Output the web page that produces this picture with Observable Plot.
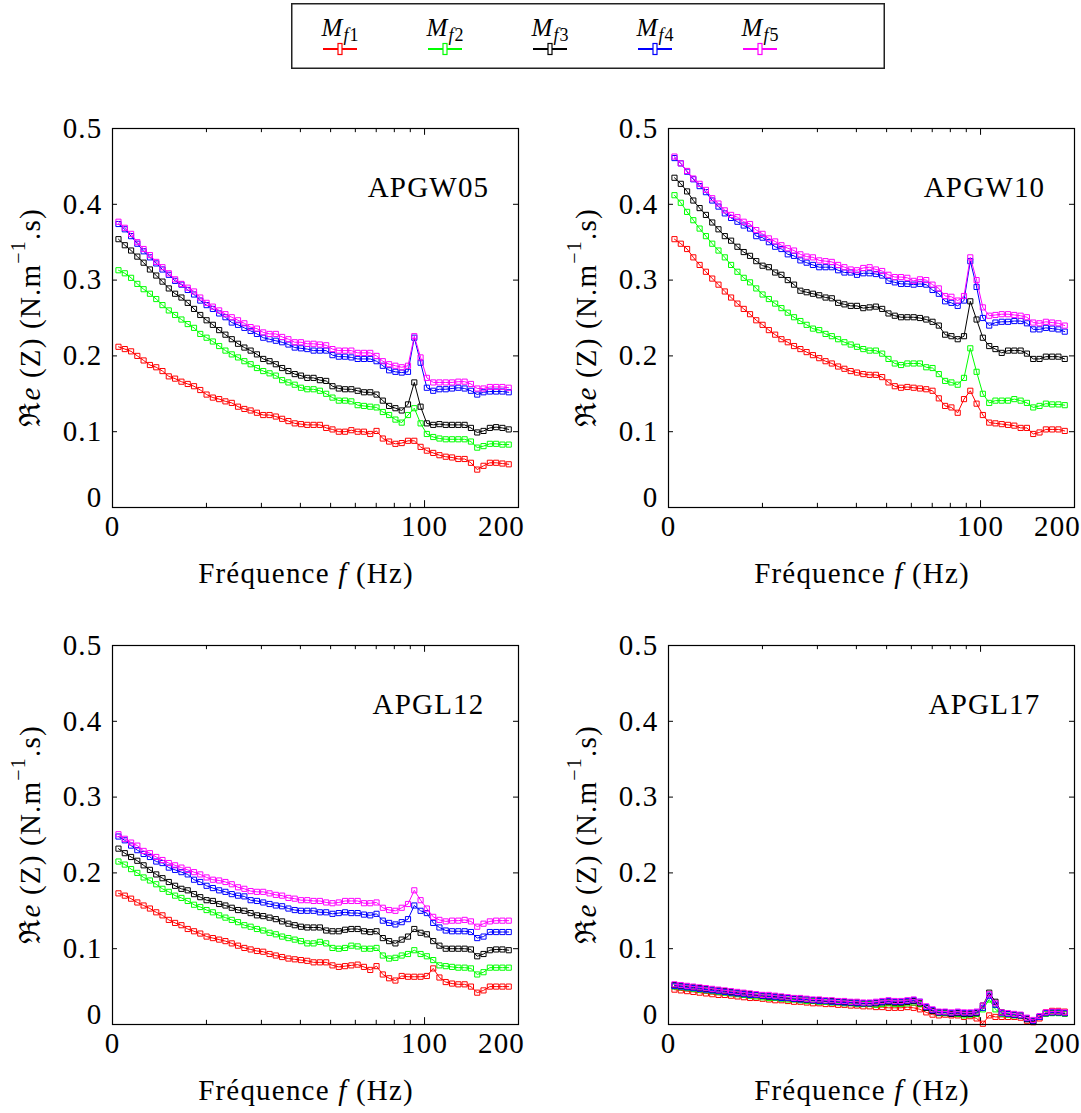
<!DOCTYPE html>
<html><head><meta charset="utf-8">
<script src="https://cdn.jsdelivr.net/npm/d3@7"></script>
<script src="https://cdn.jsdelivr.net/npm/@observablehq/plot@0.6"></script>
<style>
body{margin:0;background:#fff;width:1081px;height:1113px;overflow:hidden;position:relative;font-family:"Liberation Serif",serif;}
.panel{position:absolute;width:538px;}
.panel svg{max-width:none !important;}
#legend{position:absolute;left:291px;top:3px;}
</style></head><body>
<div id="legend"></div>
<div id="p0" class="panel" style="left:0px;top:88px"></div>
<div id="p1" class="panel" style="left:555.5px;top:88px"></div>
<div id="p2" class="panel" style="left:0px;top:605px"></div>
<div id="p3" class="panel" style="left:555.5px;top:605px"></div>
<script>
// ---------- data ----------
const freq = [10.45,10.95,11.47,12.01,12.58,13.18,13.81,14.46,15.15,15.87,16.63,17.42,18.25,19.11,20.02,20.97,21.97,23.01,24.11,25.25,26.46,27.71,29.03,30.41,31.86,33.37,34.96,36.62,38.36,40.18,42.09,44.09,46.19,48.39,50.69,53.10,55.62,58.26,61.03,63.94,66.98,70.16,73.49,76.99,80.65,84.48,88.50,92.71,97.11,101.7,106.6,111.6,116.9,122.5,128.3,134.4,140.8,147.5,154.5,161.9,169.6,177.6,186.1];
const seriesNames = ["Mf1","Mf2","Mf3","Mf4","Mf5"];
const seriesColors = ["#ff0000","#00ff00","#000000","#0000ff","#ff00ff"];
const panelNames = ["APGW05","APGW10","APGL12","APGL17"];
const yTicks = [0,0.1,0.2,0.3,0.4,0.5];
const xMinorTicks = [20,30,40,50,60,70,80,90];
const xMajorTicks = [100];
const xTickLabels = [{f:10,label:"0"},{f:100,label:"100"},{f:200,label:"200"}];

// APGW05
const apgw05_mf1 = [0.212,0.209,0.206,0.200,0.194,0.188,0.185,0.180,0.173,0.170,0.166,0.163,0.160,0.155,0.149,0.145,0.143,0.140,0.138,0.133,0.130,
 0.128,0.125,0.122,0.122,0.120,0.117,0.114,0.111,0.110,0.109,0.109,0.109,0.105,0.103,0.100,0.100,0.102,0.100,0.100,0.097,0.101,
 0.091,0.087,0.084,0.085,0.088,0.088,0.080,0.075,0.072,0.069,0.067,0.066,0.064,0.064,0.059,0.050,0.055,0.059,0.059,0.058,0.057];
const apgw05_mf2 = [0.313,0.309,0.303,0.295,0.288,0.282,0.275,0.267,0.260,0.254,0.248,0.242,0.237,0.229,0.224,0.219,0.213,0.207,0.202,0.198,0.193,
 0.189,0.184,0.180,0.177,0.174,0.168,0.165,0.162,0.158,0.156,0.156,0.154,0.150,0.145,0.141,0.141,0.140,0.135,0.134,0.133,0.132,
 0.126,0.122,0.116,0.112,0.122,0.131,0.111,0.097,0.093,0.091,0.090,0.090,0.090,0.090,0.087,0.079,0.081,0.084,0.084,0.083,0.083];
const apgw05_mf3 = [0.354,0.346,0.339,0.331,0.323,0.314,0.306,0.298,0.289,0.282,0.277,0.270,0.262,0.254,0.247,0.241,0.234,0.228,0.222,0.216,0.211,
 0.207,0.202,0.196,0.193,0.189,0.184,0.180,0.176,0.174,0.171,0.171,0.168,0.167,0.160,0.157,0.156,0.156,0.154,0.152,0.152,0.149,
 0.141,0.134,0.131,0.128,0.136,0.165,0.133,0.111,0.109,0.110,0.109,0.109,0.109,0.109,0.105,0.099,0.101,0.105,0.106,0.105,0.103];
const apgw05_mf4 = [0.374,0.367,0.358,0.348,0.338,0.330,0.322,0.314,0.307,0.299,0.294,0.287,0.281,0.273,0.267,0.262,0.256,0.251,0.244,0.241,0.237,
 0.233,0.229,0.224,0.222,0.220,0.218,0.215,0.211,0.210,0.209,0.207,0.207,0.207,0.201,0.199,0.199,0.198,0.196,0.196,0.196,0.193,
 0.187,0.181,0.179,0.178,0.179,0.224,0.191,0.158,0.154,0.156,0.156,0.157,0.158,0.157,0.154,0.149,0.152,0.153,0.153,0.153,0.152];
const apgw05_mf5 = [0.377,0.369,0.361,0.350,0.341,0.333,0.324,0.317,0.309,0.301,0.295,0.290,0.285,0.277,0.270,0.265,0.260,0.255,0.251,0.247,0.243,
 0.238,0.236,0.231,0.229,0.229,0.225,0.222,0.218,0.218,0.216,0.216,0.215,0.214,0.209,0.207,0.207,0.207,0.204,0.204,0.204,0.200,
 0.193,0.189,0.187,0.185,0.187,0.226,0.198,0.171,0.165,0.165,0.165,0.165,0.166,0.166,0.163,0.157,0.157,0.159,0.159,0.159,0.158];

// APGW10
const apgw10_mf1 = [0.354,0.348,0.341,0.330,0.320,0.311,0.302,0.294,0.285,0.277,0.269,0.262,0.255,0.247,0.241,0.234,0.228,0.222,
 0.218,0.213,0.209,0.205,0.201,0.197,0.193,0.190,0.186,0.183,0.180,0.178,
 0.176,0.175,0.175,0.172,0.165,0.160,0.158,0.159,0.158,0.157,0.156,0.154,0.144,0.134,0.132,0.125,0.143,0.154,0.137,0.122,0.112,0.111,0.110,0.109,0.108,0.105,0.105,0.097,0.099,0.103,0.103,0.103,0.101];
const apgw10_mf2 = [0.412,0.402,0.390,0.379,0.368,0.358,0.348,0.339,0.330,0.320,0.311,0.303,0.297,0.289,0.281,0.275,0.269,0.263,0.257,0.251,0.246,0.241,0.236,0.234,0.229,0.226,0.222,
 0.218,0.215,0.212,
 0.209,0.207,0.207,0.203,0.196,0.190,0.188,0.190,0.190,0.190,0.185,0.184,0.176,0.167,0.165,0.162,0.171,0.210,0.179,0.150,0.138,0.141,0.141,0.141,0.143,0.141,0.138,0.132,0.134,0.137,0.136,0.136,0.135];
const apgw10_mf3 = [0.435,0.427,0.417,0.405,0.395,0.386,0.376,0.367,0.358,0.352,0.344,0.337,0.332,0.325,0.319,0.317,0.310,0.307,0.300,0.294,0.286,0.284,0.282,0.280,0.277,0.276,0.270,0.268,0.266,0.266,
 0.263,0.264,0.265,0.262,0.256,0.253,0.251,0.251,0.251,0.250,0.248,0.245,0.240,0.228,0.226,0.222,0.226,0.272,0.248,0.224,0.213,0.209,0.204,0.207,0.207,0.207,0.203,0.196,0.196,0.199,0.199,0.199,0.196];
const apgw10_mf4 = [0.461,0.454,0.443,0.433,0.424,0.416,0.405,0.397,0.388,0.382,0.377,0.372,0.368,0.358,0.356,0.350,0.344,0.341,0.334,0.332,0.326,0.323,0.320,0.317,0.317,0.317,0.313,0.310,0.310,0.307,
 0.309,0.309,0.308,0.306,0.299,0.297,0.295,0.295,0.294,0.295,0.294,0.287,0.282,0.272,0.270,0.266,0.273,0.325,0.291,0.250,0.240,0.244,0.245,0.245,0.246,0.246,0.243,0.235,0.235,0.237,0.236,0.235,0.232];
const apgw10_mf5 = [0.463,0.454,0.444,0.434,0.427,0.419,0.408,0.401,0.392,0.386,0.383,0.377,0.374,0.366,0.361,0.355,0.351,0.346,0.342,0.339,0.334,0.331,0.330,0.326,0.325,0.324,0.320,0.317,0.314,0.313,
 0.316,0.317,0.314,0.312,0.307,0.304,0.304,0.303,0.299,0.301,0.300,0.294,0.289,0.279,0.278,0.273,0.279,0.330,0.300,0.264,0.253,0.254,0.255,0.255,0.254,0.253,0.251,0.244,0.243,0.245,0.244,0.243,0.240];

// APGL12
const apgl12_mf1 = [0.173,0.170,0.166,0.161,0.157,0.153,0.148,0.144,0.138,0.134,0.131,0.126,0.123,0.120,0.116,0.114,0.112,0.110,0.107,0.104,0.101,0.099,0.097,0.096,0.093,0.091,0.089,0.087,0.086,0.085,0.084,0.082,
 0.082,0.082,0.078,0.076,0.077,0.078,0.079,0.076,0.072,0.077,0.066,0.061,0.058,0.064,0.063,0.063,0.063,0.064,0.074,0.062,0.056,0.054,0.053,0.053,0.050,0.042,0.045,0.050,0.050,0.050,0.050];
const apgl12_mf2 = [0.215,0.211,0.205,0.200,0.194,0.190,0.185,0.179,0.175,0.170,0.167,0.163,0.158,0.155,0.151,0.148,0.144,0.141,0.138,0.135,0.131,0.129,0.126,0.124,0.121,0.119,0.116,0.114,0.112,0.110,0.107,0.107,
 0.109,0.107,0.101,0.100,0.101,0.104,0.103,0.100,0.100,0.101,0.091,0.087,0.088,0.091,0.093,0.098,0.093,0.090,0.085,0.078,0.077,0.076,0.075,0.075,0.074,0.066,0.069,0.075,0.075,0.075,0.075];
const apgl12_mf3 = [0.232,0.226,0.221,0.216,0.210,0.204,0.198,0.193,0.188,0.183,0.179,0.177,0.172,0.168,0.164,0.163,0.159,0.157,0.154,0.151,0.150,0.147,0.144,0.143,0.141,0.139,0.136,0.133,0.131,0.129,0.128,0.128,
 0.128,0.124,0.123,0.123,0.125,0.126,0.126,0.123,0.122,0.123,0.114,0.110,0.107,0.112,0.116,0.126,0.121,0.119,0.110,0.104,0.100,0.100,0.100,0.100,0.099,0.090,0.093,0.098,0.099,0.099,0.098];
const apgl12_mf4 = [0.248,0.243,0.236,0.230,0.225,0.221,0.215,0.213,0.207,0.204,0.201,0.198,0.191,0.188,0.183,0.180,0.177,0.175,0.172,0.170,0.169,0.164,0.163,0.161,0.159,0.157,0.156,0.153,0.151,0.150,0.150,0.150,
 0.148,0.148,0.146,0.147,0.148,0.147,0.147,0.145,0.144,0.146,0.137,0.134,0.132,0.135,0.139,0.157,0.150,0.147,0.134,0.128,0.124,0.123,0.123,0.123,0.122,0.114,0.116,0.122,0.122,0.122,0.122];
const apgl12_mf5 = [0.251,0.245,0.240,0.236,0.229,0.226,0.221,0.217,0.213,0.210,0.207,0.204,0.201,0.198,0.194,0.191,0.190,0.188,0.185,0.181,0.179,0.176,0.175,0.175,0.173,0.171,0.170,0.167,0.166,0.164,0.164,0.163,
 0.163,0.161,0.160,0.161,0.163,0.163,0.163,0.160,0.160,0.161,0.154,0.151,0.150,0.154,0.159,0.177,0.164,0.153,0.142,0.138,0.136,0.137,0.137,0.138,0.136,0.129,0.133,0.136,0.137,0.137,0.137];

// APGL17
const apgl17_mf1 = [0.046,0.045,0.044,0.043,0.042,0.041,0.040,0.039,0.039,
 0.038,0.037,0.036,0.035,0.035,0.034,0.033,0.032,0.032,
 0.031,0.030,0.030,0.029,0.028,0.028,0.027,0.027,0.026,
 0.026,0.025,0.025,0.024,0.024,0.023,0.023,0.022,0.022,
 0.022,0.023,0.022,0.020,0.016,0.013,0.012,0.013,0.012,
 0.012,0.010,0.011,0.008,0.001,0.012,0.010,0.010,0.010,
 0.010,0.009,0.005,0.003,0.008,0.016,0.018,0.018,0.017];
const apgl17_mf2 = [0.050,0.049,0.048,0.047,0.046,0.045,0.044,0.043,0.042,
 0.041,0.040,0.039,0.038,0.037,0.036,0.035,0.035,0.034,
 0.033,0.033,0.032,0.031,0.031,0.030,0.030,0.029,0.029,
 0.028,0.028,0.027,0.027,0.027,0.026,0.027,0.028,0.027,
 0.027,0.028,0.029,0.027,0.022,0.018,0.015,0.015,0.014,
 0.014,0.012,0.013,0.014,0.020,0.033,0.020,0.014,0.013,
 0.012,0.012,0.008,0.005,0.010,0.014,0.015,0.015,0.014];
const apgl17_mf3 = [0.052,0.051,0.050,0.049,0.048,0.047,0.046,0.045,0.044,
 0.043,0.042,0.041,0.040,0.039,0.038,0.037,0.037,0.036,
 0.035,0.034,0.034,0.033,0.032,0.032,0.031,0.031,0.030,
 0.030,0.029,0.029,0.028,0.028,0.028,0.029,0.030,0.029,
 0.029,0.030,0.031,0.028,0.022,0.018,0.016,0.016,0.014,
 0.015,0.014,0.014,0.015,0.025,0.042,0.030,0.016,0.014,
 0.013,0.012,0.007,0.004,0.010,0.015,0.016,0.016,0.015];
const apgl17_mf4 = [0.051,0.050,0.049,0.048,0.047,0.046,0.045,0.044,0.043,
 0.042,0.041,0.040,0.039,0.039,0.038,0.037,0.036,0.035,
 0.035,0.034,0.033,0.033,0.032,0.031,0.031,0.030,0.030,
 0.029,0.029,0.028,0.028,0.028,0.029,0.030,0.031,0.030,
 0.030,0.031,0.032,0.030,0.023,0.019,0.016,0.016,0.015,
 0.016,0.015,0.015,0.016,0.022,0.038,0.026,0.015,0.014,
 0.013,0.012,0.008,0.005,0.010,0.015,0.016,0.016,0.015];
const apgl17_mf5 = [0.053,0.052,0.051,0.050,0.049,0.048,0.047,0.046,0.045,
 0.044,0.043,0.042,0.041,0.040,0.039,0.039,0.038,0.037,
 0.036,0.035,0.035,0.034,0.033,0.033,0.032,0.032,0.031,
 0.031,0.030,0.030,0.029,0.029,0.030,0.031,0.032,0.031,
 0.031,0.032,0.033,0.030,0.024,0.020,0.017,0.017,0.016,
 0.017,0.016,0.016,0.017,0.025,0.040,0.028,0.016,0.015,
 0.014,0.013,0.009,0.006,0.011,0.016,0.017,0.017,0.016];

const panelSeries = [
  [apgw05_mf1,apgw05_mf2,apgw05_mf3,apgw05_mf4,apgw05_mf5],
  [apgw10_mf1,apgw10_mf2,apgw10_mf3,apgw10_mf4,apgw10_mf5],
  [apgl12_mf1,apgl12_mf2,apgl12_mf3,apgl12_mf4,apgl12_mf5],
  [apgl17_mf1,apgl17_mf2,apgl17_mf3,apgl17_mf4,apgl17_mf5]
];

// ---------- drawing ----------
const FONT = "'Liberation Serif', 'DejaVu Serif', serif";
const FS = 29;
const LS = "1.2px";
const ML = 112, MR = 20, MT = 40, MB = 88, FW = 406, FH = 379;
const fmtTick = d => String(d);

function makePanel(p) {
  const seriesMarks = [];
  panelSeries[p].forEach((vals, k) => {
    const rows = vals.map((v, i) => ({f: freq[i], v}));
    seriesMarks.push(Plot.line(rows, {x: "f", y: "v", stroke: seriesColors[k], strokeWidth: 1}));
    seriesMarks.push(Plot.dot(rows, {x: "f", y: "v", symbol: "square", r: 2.9, stroke: seriesColors[k], fill: "none", strokeWidth: 1}));
  });
  const inner = yTicks.filter(d => d > 0 && d < 0.5);
  const chart = Plot.plot({
    width: ML + FW + MR, height: MT + FH + MB,
    marginLeft: ML, marginRight: MR, marginTop: MT, marginBottom: MB,
    x: {type: "log", domain: [10, 200]},
    y: {domain: [0, 0.5]},
    style: {fontFamily: FONT, fontSize: FS + "px", color: "#000", background: "transparent", overflow: "visible", maxWidth: "none", letterSpacing: LS},
    marks: [
      // ticks (inward)
      Plot.ruleY(inner, {y: d => d, x1: 10, x2: 10.375, stroke: "#000", strokeWidth: 1}),
      Plot.ruleY(inner, {y: d => d, x1: 192.77, x2: 200, stroke: "#000", strokeWidth: 1}),
      Plot.ruleX(xMinorTicks, {x: d => d, y1: 0, y2: 0.0055, stroke: "#000", strokeWidth: 1}),
      Plot.ruleX(xMajorTicks, {x: d => d, y1: 0, y2: 0.009, stroke: "#000", strokeWidth: 1}),
      Plot.ruleX(xMinorTicks, {x: d => d, y1: 0.4945, y2: 0.5, stroke: "#000", strokeWidth: 1}),
      Plot.ruleX(xMajorTicks, {x: d => d, y1: 0.491, y2: 0.5, stroke: "#000", strokeWidth: 1}),
      // tick labels
      Plot.axisY(yTicks.filter(d => d > 0), {tickSize: 0, tickPadding: 10, label: null, fontSize: FS, tickFormat: fmtTick}),
      Plot.axisY([0], {tickSize: 0, tickPadding: 10, label: null, fontSize: FS, dy: -10, tickFormat: fmtTick}),
      Plot.axisX(xTickLabels.slice(0, 2).map(d => d.f), {tickSize: 0, tickPadding: 8, label: null, fontSize: FS,
        tickFormat: d => xTickLabels.find(t => t.f === d).label}),
      Plot.axisX([200], {tickSize: 0, tickPadding: 8, label: null, fontSize: FS, dx: -17,
        tickFormat: d => xTickLabels.find(t => t.f === d).label}),
      ...seriesMarks,
      Plot.frame({stroke: "#000", strokeWidth: 1.2}),
      Plot.text([panelNames[p]], {text: d => d, frameAnchor: "top-left", dx: 316, dy: 59,
        textAnchor: "middle", lineAnchor: "middle", fontSize: FS})
    ]
  });
  const svg = d3.select(chart);
  // x-axis title
  const xt = svg.append("text")
    .attr("x", ML + FW / 2 - 9).attr("y", MT + FH + 66)
    .attr("text-anchor", "middle").attr("dominant-baseline", "central")
    .attr("font-size", FS).attr("font-family", FONT).attr("fill", "#000").style("letter-spacing", LS);
  xt.append("tspan").text("Fréquence ");
  xt.append("tspan").attr("font-style", "italic").text("f");
  xt.append("tspan").text(" (Hz)");
  // y-axis title
  const yt = svg.append("text")
    .attr("transform", `translate(30,${MT + FH / 2}) rotate(-90)`)
    .attr("text-anchor", "middle").attr("dominant-baseline", "central")
    .attr("font-size", FS).attr("font-family", FONT).attr("fill", "#000").style("letter-spacing", LS);
  yt.append("tspan").text("ℜ");
  yt.append("tspan").attr("font-style", "italic").text("e");
  yt.append("tspan").text(" (Z) (N.m");
  yt.append("tspan").attr("font-size", 20).attr("dy", -12).text("−1");
  yt.append("tspan").attr("dy", 12).text(".s)");
  document.getElementById("p" + p).appendChild(chart);
}
[0, 1, 2, 3].forEach(makePanel);

// ---------- legend ----------
const legendSubs = ["1","2","3","4","5"];
const LW = 594, LH = 66;
const lg = d3.select("#legend").append("svg").attr("width", LW).attr("height", LH);
lg.append("rect").attr("x", 0.75).attr("y", 0.75).attr("width", LW - 1.5).attr("height", LH - 1.5)
  .attr("fill", "#fff").attr("stroke", "#222").attr("stroke-width", 1.5);
seriesNames.forEach((name, k) => {
  const cx = 49 + 105 * k;
  const t = lg.append("text").attr("x", cx).attr("y", 33).attr("text-anchor", "middle")
    .attr("font-family", FONT).attr("font-size", 25).attr("fill", "#000");
  t.append("tspan").attr("font-style", "italic").text("M");
  t.append("tspan").attr("font-style", "italic").attr("font-size", 18).attr("dy", 5).attr("dx", 1).text("f");
  t.append("tspan").attr("font-size", 18).attr("dx", 1).text(legendSubs[k]);
  lg.append("line").attr("x1", cx - 17).attr("x2", cx + 17).attr("y1", 46).attr("y2", 46)
    .attr("stroke", seriesColors[k]).attr("stroke-width", 2);
  lg.append("rect").attr("x", cx - 2).attr("y", 40.5).attr("width", 4).attr("height", 11)
    .attr("fill", "#fff").attr("stroke", seriesColors[k]).attr("stroke-width", 1.2);
});
</script>
</body></html>
